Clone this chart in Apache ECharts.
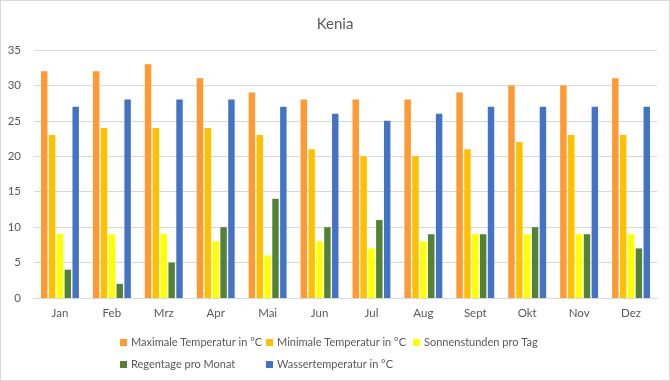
<!DOCTYPE html>
<html>
<head>
<meta charset="utf-8">
<script src="https://cdn.jsdelivr.net/npm/echarts@6/dist/echarts.min.js"></script>
<style>
html,body{margin:0;padding:0;background:#fff;}
#c{width:670px;height:381px;box-sizing:border-box;border:1px solid #d9d9d9;}
</style>
</head>
<body>
<div id="c"></div>
<script>
const months = ['Jan','Feb','Mrz','Apr','Mai','Jun','Jul','Aug','Sept','Okt','Nov','Dez'];
const maxTemp = [32,32,33,31,29,28,28,28,29,30,30,31];
const minTemp = [23,24,24,24,23,21,20,20,21,22,23,23];
const sunHours = [9,9,9,8,6,8,7,8,9,9,9,9];
const rainDays = [4,2,5,10,14,10,11,9,9,10,9,7];
const waterTemp = [27,28,28,28,27,26,25,26,27,27,27,27];
const seriesNames = ['Maximale Temperatur in °C','Minimale Temperatur in °C','Sonnenstunden pro Tag','Regentage pro Monat','Wassertemperatur in °C'];
const seriesColors = ['#FF9933','#FFC000','#FFFF00','#548235','#4472C4'];
const seriesData = [maxTemp,minTemp,sunHours,rainDays,waterTemp];

const FONT = 'Lato, "Open Sans", sans-serif';
const legendPos = [[114,331],[260,331],[407,331],[114,353],[260,353]];

const chart = echarts.init(document.getElementById('c'));
chart.setOption({
  animation:false,
  textStyle:{fontFamily:FONT},
  title:{text:'Kenia',left:'center',top:11,textStyle:{fontFamily:FONT,fontSize:15,fontWeight:'normal',color:'#595959'}},
  legend: seriesNames.map((n,i)=>({
    data:[n], left:legendPos[i][0], top:legendPos[i][1],
    itemWidth:7, itemHeight:7, itemGap:4,
    icon:'rect',
    textStyle:{fontFamily:FONT,fontSize:11,color:'#595959',padding:[0,0,0,-1]}
  })),
  grid:{left:33,right:12,top:49,bottom:82},
  xAxis:{type:'category',data:months,
    axisLine:{lineStyle:{color:'#d9d9d9',width:1}},
    axisTick:{show:false},
    axisLabel:{color:'#595959',fontSize:11.5,margin:9,fontFamily:FONT}},
  yAxis:{type:'value',min:0,max:35,interval:5,
    axisLine:{show:false},axisTick:{show:false},
    axisLabel:{color:'#595959',fontSize:11.5,margin:13,fontFamily:FONT},
    splitLine:{lineStyle:{color:'#d9d9d9',width:1}}},
  series: seriesNames.map((n,i)=>({
    name:n,type:'bar',data:seriesData[i],
    itemStyle:{color:seriesColors[i]},
    barGap:'22%',barCategoryGap:'27%'
  }))
});
</script>
</body>
</html>
